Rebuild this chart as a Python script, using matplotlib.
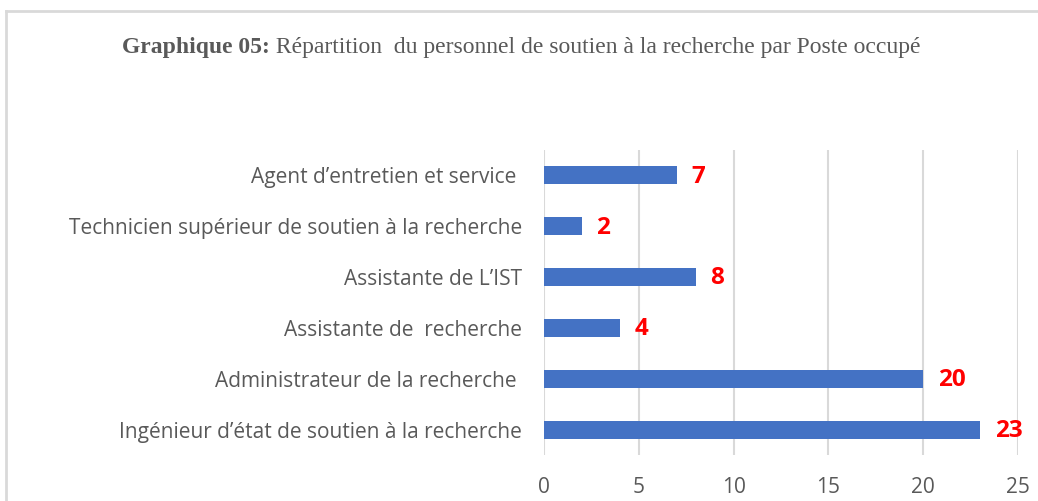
import matplotlib.pyplot as plt
from matplotlib.lines import Line2D

postes = ["Agent d’entretien et service ",
          "Technicien supérieur de soutien à la recherche",
          "Assistante de L’IST",
          "Assistante de  recherche",
          "Administrateur de la recherche ",
          "Ingénieur d’état de soutien à la recherche"]
effectifs = [7, 2, 8, 4, 20, 23]
xticks = [0, 5, 10, 15, 20, 25]

W, H = 1038, 501
fig = plt.figure(figsize=(W / 100, H / 100), dpi=100)
ax = fig.add_axes([544 / W, 1 - 455 / H, (1018 - 544) / W, (455 - 150) / H])

ypos = list(range(len(postes)))[::-1]
ax.barh(ypos, effectifs, height=0.355, color='#4472C4', zorder=3)
for y, v in zip(ypos, effectifs):
    ax.annotate(str(v), (v, y), xytext=(10.5, -1), textcoords='offset points',
                va='center', ha='left', color='red', fontweight='bold',
                fontsize=17.5, fontfamily='Open Sans')

ax.set_xlim(0, 25)
ax.set_ylim(-0.5, len(postes) - 0.5)
ax.set_xticks(xticks)
ax.set_yticks(ypos)
ax.set_yticklabels(postes, fontsize=15, color='#595959', fontfamily='Open Sans')
ax.tick_params(axis='x', labelsize=15, labelcolor='#595959', length=0, pad=16)
ax.tick_params(axis='y', length=0, pad=16)
for lab in ax.get_xticklabels():
    lab.set_fontfamily('Open Sans')
ax.grid(axis='x', color='#d9d9d9', linewidth=1.5, zorder=0)
for s in ax.spines.values():
    s.set_visible(False)

# title: bold part + normal part, placed side by side
ty = 1 - 48 / H
t1 = fig.text(122 / W, ty, "Graphique 05:", fontfamily='Liberation Serif',
              fontweight='bold', fontsize=17, color='#595959', va='center', ha='left')
fig.canvas.draw()
bb = t1.get_window_extent()
fig.text(bb.x1 / W, ty, " Répartition  du personnel de soutien à la recherche par Poste occupé",
         fontfamily='Liberation Serif', fontsize=17, color='#595959', va='center', ha='left')

# outer frame (top and left edges)
fig.add_artist(Line2D([5.5 / W, 5.5 / W], [0, 1 - 10.5 / H], transform=fig.transFigure,
                      color='#d9d9d9', linewidth=2))
fig.add_artist(Line2D([5.5 / W, 1], [1 - 10.5 / H, 1 - 10.5 / H], transform=fig.transFigure,
                      color='#d9d9d9', linewidth=2))

fig.savefig('out.png', dpi=100)
